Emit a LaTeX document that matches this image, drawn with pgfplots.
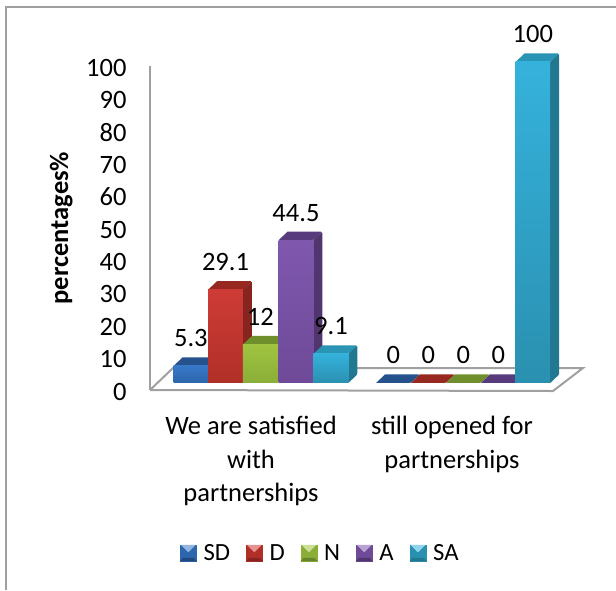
\documentclass[border=0pt]{standalone}
\usepackage{fontspec}
\setmainfont{Carlito}
\usepackage{pgfplots}
\pgfplotsset{compat=1.18}

% Series colours: top of front face, foot of front face, side face, top face
\definecolor{sdA}{HTML}{3878C8}\definecolor{sdB}{HTML}{2C66AC}\definecolor{sdS}{HTML}{21497C}\definecolor{sdT}{HTML}{25528C}
\definecolor{dA}{HTML}{CE3B36}\definecolor{dB}{HTML}{B03028}\definecolor{dS}{HTML}{872420}\definecolor{dT}{HTML}{96281F}
\definecolor{nA}{HTML}{A0C440}\definecolor{nB}{HTML}{8AAE38}\definecolor{nS}{HTML}{67852A}\definecolor{nT}{HTML}{6F8F2C}
\definecolor{aA}{HTML}{7F58AE}\definecolor{aB}{HTML}{6E4A98}\definecolor{aS}{HTML}{50356F}\definecolor{aT}{HTML}{583B7C}
\definecolor{saA}{HTML}{35B2DC}\definecolor{saB}{HTML}{2A90B0}\definecolor{saS}{HTML}{217890}\definecolor{saT}{HTML}{2A94B4}
\definecolor{framegray}{HTML}{A0A0A0}

\newcommand{\chartfont}{\fontsize{26.5}{33.5}\selectfont}

% One 3D column: front-left x, value, colour prefix
\newcommand{\column}[3]{%
  \pgfmathsetmacro{\xa}{#1}%
  \pgfmathsetmacro{\xb}{#1+34.7}%
  \pgfmathsetmacro{\xc}{#1+34.7+9}%
  \pgfmathsetmacro{\xd}{#1+9}%
  \pgfmathsetmacro{\xm}{#1+17.35}%
  \pgfmathsetmacro{\yt}{#2+2.65}%
  \ifdim#2pt>0pt
    \def\frontstyle{top color=#3A,bottom color=#3B}%
  \else
    \def\frontstyle{fill=none}%
  \fi
  \edef\temp{%
    \noexpand\addplot[forget plot,draw=none,fill=#3T,rounded corners=1.2pt] coordinates
      {(\xa,#2) (\xb,#2) (\xc,\yt) (\xd,\yt)};
    \noexpand\addplot[forget plot,draw=none,fill=#3S,rounded corners=1.2pt] coordinates
      {(\xb,0) (\xc,2.65) (\xc,\yt) (\xb,#2)};
    \noexpand\addplot[forget plot,ybar,bar shift=0pt,bar width=34.7,draw=none,\frontstyle,
      nodes near coords,
      every node near coord/.style={anchor=center,yshift=27.5pt,text=black,font=\noexpand\chartfont,
        /pgf/number format/assume math mode=true}]
      coordinates {(\xm,#2)};
  }\temp
}

% Legend key with a bevelled face
\newcommand{\swatch}[4]{%
  \addlegendimage{legend image code/.code={
    \fill[#1] (0pt,-8pt) rectangle (16pt,8pt);
    \fill[#2!55!white] (1pt,8pt) -- (15pt,8pt) -- (8pt,1pt) -- cycle;
    \fill[#3] (0pt,-8pt) -- (16pt,-8pt) -- (13pt,-5pt) -- (3pt,-5pt) -- cycle;
  }}%
  \addlegendentry{#4}%
}

\begin{document}
\begin{tikzpicture}[x=1pt,y=1pt]
\path[use as bounding box,fill=white] (0,0) rectangle (616,590);

% Outer frame and chart floor, in page units measured from the top left
\begin{axis}[
  at={(0pt,0pt)},anchor=south west,scale only axis,width=616pt,height=590pt,
  xmin=0,xmax=616,ymin=0,ymax=590,y dir=reverse,hide axis,clip=false]
  \addplot[framegray,line width=2pt,mark=none] coordinates {(6,590) (6,7) (616,7)};
  \addplot[framegray,line width=2pt,mark=none,line join=miter]
    coordinates {(150,390) (553,391) (583,368) (173,368) (150,390)};
\end{axis}

% Value axis and category labels
\begin{axis}[
  at={(150pt,200pt)},anchor=south west,scale only axis,width=403pt,height=324pt,
  xmin=150,xmax=553,ymin=0,ymax=100,
  axis x line*=bottom,axis y line*=left,
  x axis line style={draw=none},
  y axis line style={draw=framegray,line width=2pt,-},
  xtick={251,452},
  xticklabels={{We are satisfied\\with\\partnerships},{still opened for\\partnerships}},
  x tick label style={align=center,font=\chartfont,yshift=-23pt},
  ytick={0,10,...,100},
  y tick label style={font=\chartfont,xshift=-20pt,yshift=-1.5pt},
  major tick length=0pt,
  /pgf/number format/assume math mode=true,
  ylabel={\textbf{percentages\%}},
  ylabel style={font=\fontsize{26.5}{28}\selectfont,at={(axis description cs:-0.183,0.5)}},
  clip=false]
  \addplot[draw=none,forget plot] coordinates {(150,0) (553,100)};
\end{axis}

% Columns and legend
\begin{axis}[
  at={(0pt,0pt)},anchor=south west,scale only axis,width=616pt,height=590pt,
  xmin=0,xmax=616,ymin=-64.49,ymax=119.31,hide axis,clip=false,
  legend columns=5,
  legend cell align=left,
  legend style={draw=none,fill=none,font=\fontsize{24.7}{28}\selectfont,
    at={(180/616,37/590)},anchor=west,inner sep=0pt,
    /tikz/every odd column/.append style={column sep=5pt},
    /tikz/every even column/.append style={column sep=14pt}}]
  % satisfied with partnerships
  \column{173.5}{5.3}{sd}
  \column{208.2}{29.1}{d}
  \column{242.9}{12}{n}
  \column{278.6}{44.5}{a}
  \column{313.6}{9.1}{sa}
  % still opened for partnerships
  \column{376}{0}{sd}
  \column{411}{0}{d}
  \column{446}{0}{n}
  \column{481}{0}{a}
  \column{515.5}{100}{sa}
  \swatch{sdB}{sdA}{sdS}{SD}
  \swatch{dB}{dA}{dS}{D}
  \swatch{nB}{nA}{nS}{N}
  \swatch{aB}{aA}{aS}{A}
  \swatch{saB}{saA}{saS}{SA}
\end{axis}
\end{tikzpicture}
\end{document}
